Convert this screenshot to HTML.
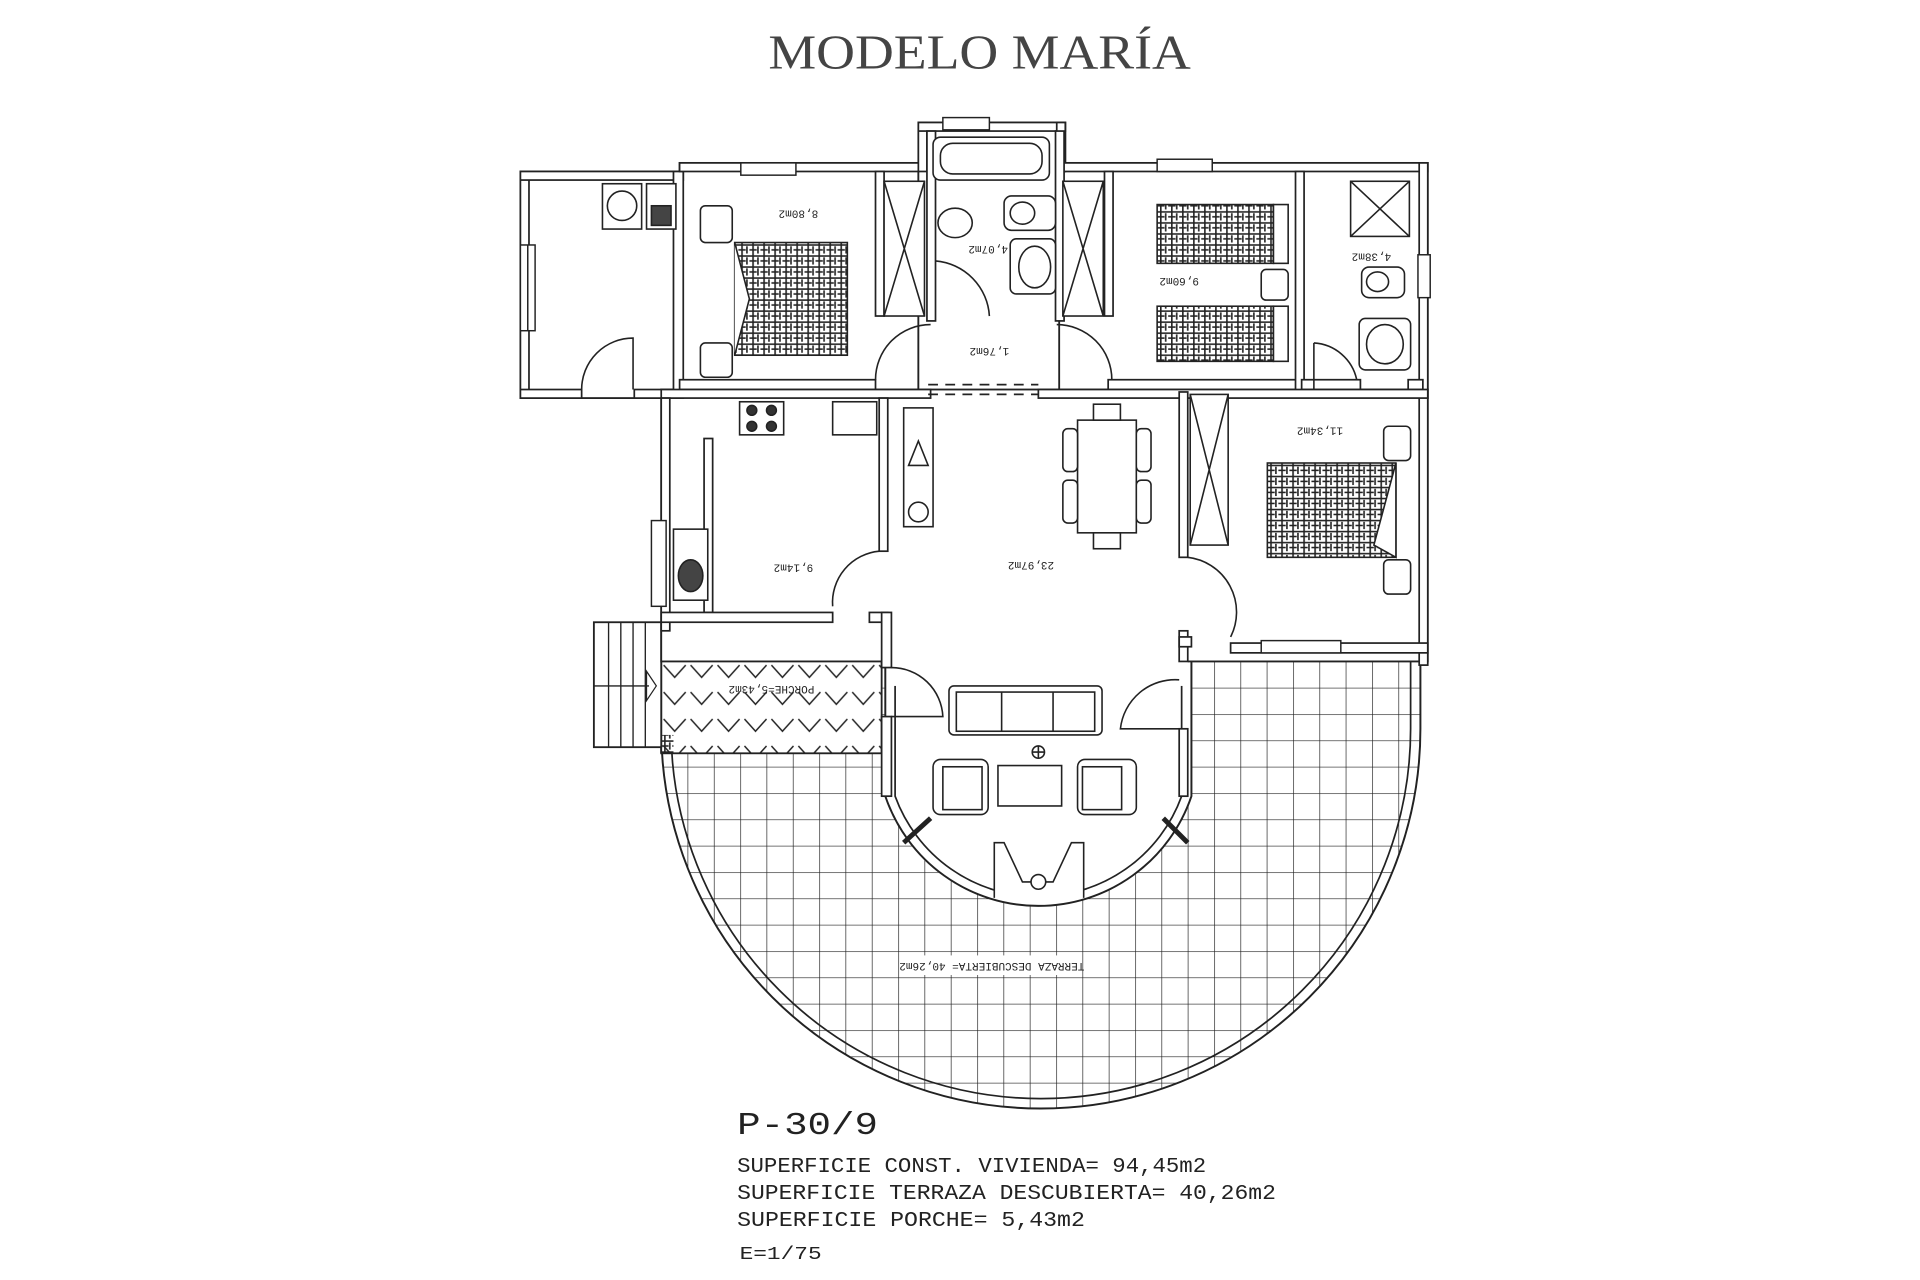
<!DOCTYPE html>
<html><head><meta charset="utf-8"><style>
html,body{margin:0;padding:0;background:#fff;width:1920px;height:1280px;overflow:hidden}
svg{display:block}
text{font-family:"Liberation Mono",monospace;fill:#222}
</style></head><body>
<svg width="1920" height="1280" viewBox="0 0 1568 1045" preserveAspectRatio="none" xmlns="http://www.w3.org/2000/svg">
<defs>
<pattern id="tile" x="540" y="540" width="21.5" height="21.5" patternUnits="userSpaceOnUse">
<path d="M0 0H21.5M0 0V21.5" stroke="#222" stroke-width="1.1" fill="none"/>
</pattern>
<pattern id="cross" x="540" y="515" width="22" height="22" patternUnits="userSpaceOnUse">
<path d="M2 6L11 16L20 6" stroke="#222" stroke-width="1.2" fill="none"/>
</pattern>
<pattern id="hatch" width="9" height="9" patternUnits="userSpaceOnUse">
<path d="M0 2H9M0 6H6M3 0V9M7 3V9" stroke="#222" stroke-width="1.3" fill="none"/>
</pattern>
<clipPath id="terr"><path d="M540 540H1160V595A310 310 0 0 1 540 595Z"/></clipPath>
</defs>
<rect width="1568" height="1045" fill="#fff"/>

<text x="800" y="56" text-anchor="middle" font-size="40" textLength="345" lengthAdjust="spacingAndGlyphs" style="font-family:'Liberation Serif',serif;fill:#444">MODELO MARÍA</text>

<!-- terrace -->
<g clip-path="url(#terr)"><rect x="540" y="540" width="620" height="370" fill="url(#tile)"/></g>
<path d="M540 615V595A310 310 0 0 0 1160 595V540" fill="none" stroke="#222" stroke-width="1.6"/>
<path d="M548 615V595A302 302 0 0 0 1152 595V540" fill="none" stroke="#222" stroke-width="1.4"/>
<rect x="740" y="780" width="140" height="16" fill="#fff"/>
<text x="810" y="792" font-size="9" text-anchor="middle" transform="rotate(180 810 789)">TERRAZA DESCUBIERTA= 40,26m2</text>

<!-- porch -->
<rect x="540" y="515" width="180" height="100" fill="#fff" stroke="#222" stroke-width="1.5"/>
<rect x="540" y="515" width="180" height="100" fill="url(#cross)"/>
<rect x="540" y="600" width="10" height="15" fill="url(#hatch)"/>
<text x="630" y="566" font-size="9" text-anchor="middle" transform="rotate(180 630 563)">PORCHE=5,43m2</text>
<!-- stairs -->
<rect x="485" y="508" width="55" height="102" fill="#fff" stroke="#222" stroke-width="1.5"/>
<path d="M497 508V610M507 508V610M517 508V610M527 508V610M485 560H530" stroke="#222" stroke-width="1.1"/>
<path d="M528 548L536 560L528 572Z" fill="none" stroke="#222"/>

<!-- living bump -->
<path d="M723 520V650A132 132 0 0 0 973 650V520Z" fill="#fff" stroke="#222" stroke-width="1.6"/>
<path d="M731 520V650A124.5 124.5 0 0 0 965 650V520" fill="none" stroke="#222" stroke-width="1.4"/>

<!-- building floor -->
<g fill="#fff" stroke="#222" stroke-width="1.5">
<rect x="425" y="140" width="135" height="185"/>
<rect x="555" y="133" width="195" height="192"/>
<rect x="750" y="100" width="120" height="225"/>
<rect x="865" y="133" width="301" height="192"/>
<rect x="540" y="318" width="626" height="222"/>
</g>
<rect x="724" y="500" width="246" height="60" fill="#fff"/>

<!-- walls -->
<g fill="#fff" stroke="#222" stroke-width="1.4">
<rect x="425" y="140" width="7" height="185"/>
<rect x="425" y="140" width="133" height="7"/>
<rect x="425" y="318" width="50" height="7"/>
<rect x="518" y="318" width="40" height="7"/>
<rect x="550" y="140" width="8" height="185"/>
<rect x="555" y="133" width="195" height="7"/>
<rect x="750" y="100" width="7" height="40"/>
<rect x="750" y="100" width="120" height="7"/>
<rect x="863" y="100" width="7" height="40"/>
<rect x="865" y="133" width="301" height="7"/>
<rect x="1159" y="133" width="7" height="410"/>
<rect x="555" y="310" width="160" height="8"/>
<rect x="715" y="140" width="7" height="118"/>
<rect x="757" y="107" width="7" height="155"/>
<rect x="862" y="107" width="7" height="155"/>
<rect x="902" y="140" width="7" height="118"/>
<rect x="905" y="310" width="155" height="8"/>
<rect x="1058" y="140" width="7" height="180"/>
<rect x="1063" y="310" width="48" height="8"/>
<rect x="1150" y="310" width="12" height="8"/>
<rect x="540" y="318" width="220" height="7"/>
<rect x="848" y="318" width="318" height="7"/>
<rect x="540" y="325" width="7" height="190"/>
<rect x="575" y="358" width="7" height="142"/>
<rect x="718" y="325" width="7" height="125"/>
<rect x="540" y="500" width="140" height="8"/>
<rect x="710" y="500" width="15" height="8"/>
<rect x="720" y="500" width="8" height="45"/>
<rect x="720" y="585" width="8" height="65"/>
<rect x="963" y="320" width="7" height="135"/>
<rect x="963" y="515" width="7" height="25"/>
<rect x="963" y="595" width="7" height="55"/>
<rect x="1005" y="525" width="161" height="8"/>
<rect x="963" y="520" width="10" height="8"/>
</g>
<!-- windows -->
<g fill="#fff" stroke="#222" stroke-width="1.2">
<rect x="425" y="200" width="12" height="70"/><path d="M431 200V270"/>
<rect x="605" y="133" width="45" height="10"/>
<rect x="770" y="96" width="38" height="10"/>
<rect x="945" y="130" width="45" height="10"/>
<rect x="1158" y="208" width="10" height="35"/>
<rect x="532" y="425" width="12" height="70"/>
<rect x="1030" y="523" width="65" height="10"/>
</g>
<path d="M758 314H848M758 322H848" stroke="#222" stroke-width="1.4" stroke-dasharray="8,6"/>

<!-- door arcs -->
<g fill="none" stroke="#222" stroke-width="1.3">
<path d="M475 318A42 42 0 0 1 517 276V318"/>
<path d="M764 213A48 48 0 0 1 808 258"/>
<path d="M715 310A45 45 0 0 1 760 265"/>
<path d="M908 310A45 45 0 0 0 863 265"/>
<path d="M1073 280A38 38 0 0 1 1108 310"/>
<path d="M1073 280V318"/>
<path d="M680 495A42 42 0 0 1 718 450"/>
<path d="M970 455A45 45 0 0 1 1005 520"/>
<path d="M728 545A42 42 0 0 1 770 585H728"/>
<path d="M963 555A45 45 0 0 0 915 595H963"/>
</g>

<!-- closets -->
<g fill="#fff" stroke="#222" stroke-width="1.3">
<rect x="722" y="148" width="33" height="110"/><path d="M722 148L755 258M755 148L722 258"/>
<rect x="868" y="148" width="33" height="110"/><path d="M868 148L901 258M901 148L868 258"/>
<rect x="972" y="322" width="31" height="123"/><path d="M972 322L1003 445M1003 322L972 445"/>
</g>

<!-- bathroom 1 -->
<g fill="#fff" stroke="#222" stroke-width="1.3">
<rect x="762" y="112" width="95" height="35" rx="6"/><rect x="768" y="117" width="83" height="25" rx="10"/>
<ellipse cx="780" cy="182" rx="14" ry="12"/>
<rect x="820" y="160" width="42" height="28" rx="6"/><ellipse cx="835" cy="174" rx="10" ry="9"/>
<rect x="825" y="195" width="37" height="45" rx="5"/><ellipse cx="845" cy="218" rx="13" ry="17"/>
</g>
<!-- bathroom 2 -->
<g fill="#fff" stroke="#222" stroke-width="1.3">
<rect x="1103" y="148" width="48" height="45"/><path d="M1103 148L1151 193M1151 148L1103 193"/>
<rect x="1112" y="218" width="35" height="25" rx="6"/><ellipse cx="1125" cy="230" rx="9" ry="8"/>
<rect x="1110" y="260" width="42" height="42" rx="5"/><ellipse cx="1131" cy="281" rx="15" ry="16"/>
</g>
<!-- utility -->
<g fill="#fff" stroke="#222" stroke-width="1.3">
<rect x="492" y="150" width="32" height="37"/><circle cx="508" cy="168" r="12"/>
<rect x="528" y="150" width="24" height="37"/><rect x="532" y="168" width="16" height="16" fill="#444"/>
</g>
<!-- kitchen -->
<g fill="#fff" stroke="#222" stroke-width="1.3">
<rect x="604" y="328" width="36" height="27"/><circle cx="614" cy="335" r="4" fill="#333"/><circle cx="630" cy="335" r="4" fill="#333"/><circle cx="614" cy="348" r="4" fill="#333"/><circle cx="630" cy="348" r="4" fill="#333"/>
<rect x="680" y="328" width="36" height="27"/>
<rect x="550" y="432" width="28" height="58"/><ellipse cx="564" cy="470" rx="10" ry="13" fill="#444"/>
<rect x="738" y="333" width="24" height="97"/><path d="M742 380L750 360L758 380Z"/><circle cx="750" cy="418" r="8"/>
</g>
<!-- dining -->
<g fill="#fff" stroke="#222" stroke-width="1.3">
<rect x="880" y="343" width="48" height="92"/>
<rect x="893" y="330" width="22" height="13"/><rect x="893" y="435" width="22" height="13"/>
<rect x="868" y="350" width="12" height="35" rx="4"/><rect x="868" y="392" width="12" height="35" rx="4"/>
<rect x="928" y="350" width="12" height="35" rx="4"/><rect x="928" y="392" width="12" height="35" rx="4"/>
</g>
<!-- lounge -->
<g fill="#fff" stroke="#222" stroke-width="1.3">
<rect x="775" y="560" width="125" height="40" rx="4"/><rect x="781" y="565" width="113" height="32"/><path d="M818 565V597M860 565V597"/>
<rect x="762" y="620" width="45" height="45" rx="6"/><rect x="770" y="626" width="32" height="35"/>
<rect x="880" y="620" width="48" height="45" rx="6"/><rect x="884" y="626" width="32" height="35"/>
<rect x="815" y="625" width="52" height="33"/>
<circle cx="848" cy="614" r="5"/><path d="M843 614H853M848 609V619"/>
<path d="M812 733V688H820L835 720H860L875 688H885V733"/><circle cx="848" cy="720" r="6"/>
<path d="M738 688L760 668M950 668L970 688" stroke-width="4"/>
</g>

<!-- beds -->
<g stroke="#222" stroke-width="1.3">
<rect x="600" y="198" width="92" height="92" fill="url(#hatch)"/>
<path d="M600 198L612 244L600 290" fill="#fff"/>
<rect x="572" y="168" width="26" height="30" rx="4" fill="#fff"/><rect x="572" y="280" width="26" height="28" rx="4" fill="#fff"/>
<rect x="945" y="167" width="95" height="48" fill="url(#hatch)"/><rect x="1040" y="167" width="12" height="48" fill="#fff"/>
<rect x="945" y="250" width="95" height="45" fill="url(#hatch)"/><rect x="1040" y="250" width="12" height="45" fill="#fff"/>
<rect x="1030" y="220" width="22" height="25" rx="4" fill="#fff"/>
<rect x="1035" y="378" width="105" height="77" fill="url(#hatch)"/><path d="M1140 378L1122 445L1140 455Z" fill="#fff"/>
<rect x="1130" y="348" width="22" height="28" rx="4" fill="#fff"/><rect x="1130" y="457" width="22" height="28" rx="4" fill="#fff"/>
</g>

<!-- room labels (upside down) -->
<g font-size="9">
<text x="652" y="178" text-anchor="middle" transform="rotate(180 652 175)">8,80m2</text>
<text x="807" y="207" text-anchor="middle" transform="rotate(180 807 204)">4,07m2</text>
<text x="808" y="290" text-anchor="middle" transform="rotate(180 808 287)">1,76m2</text>
<text x="963" y="233" text-anchor="middle" transform="rotate(180 963 230)">9,60m2</text>
<text x="1120" y="213" text-anchor="middle" transform="rotate(180 1120 210)">4,38m2</text>
<text x="1078" y="355" text-anchor="middle" transform="rotate(180 1078 352)">11,34m2</text>
<text x="648" y="467" text-anchor="middle" transform="rotate(180 648 464)">9,14m2</text>
<text x="842" y="465" text-anchor="middle" transform="rotate(180 842 462)">23,97m2</text>
</g>

<!-- bottom text -->
<text x="602" y="926" font-size="26" textLength="115" lengthAdjust="spacingAndGlyphs">P-30/9</text>
<g font-size="17" style="fill:#222">
<text x="602" y="957" textLength="383" lengthAdjust="spacingAndGlyphs">SUPERFICIE CONST. VIVIENDA= 94,45m2</text>
<text x="602" y="979" textLength="440" lengthAdjust="spacingAndGlyphs">SUPERFICIE TERRAZA DESCUBIERTA= 40,26m2</text>
<text x="602" y="1001" textLength="284" lengthAdjust="spacingAndGlyphs">SUPERFICIE PORCHE= 5,43m2</text>
</g>
<text x="604" y="1028" font-size="15" textLength="67" lengthAdjust="spacingAndGlyphs">E=1/75</text>
</svg>
</body></html>
